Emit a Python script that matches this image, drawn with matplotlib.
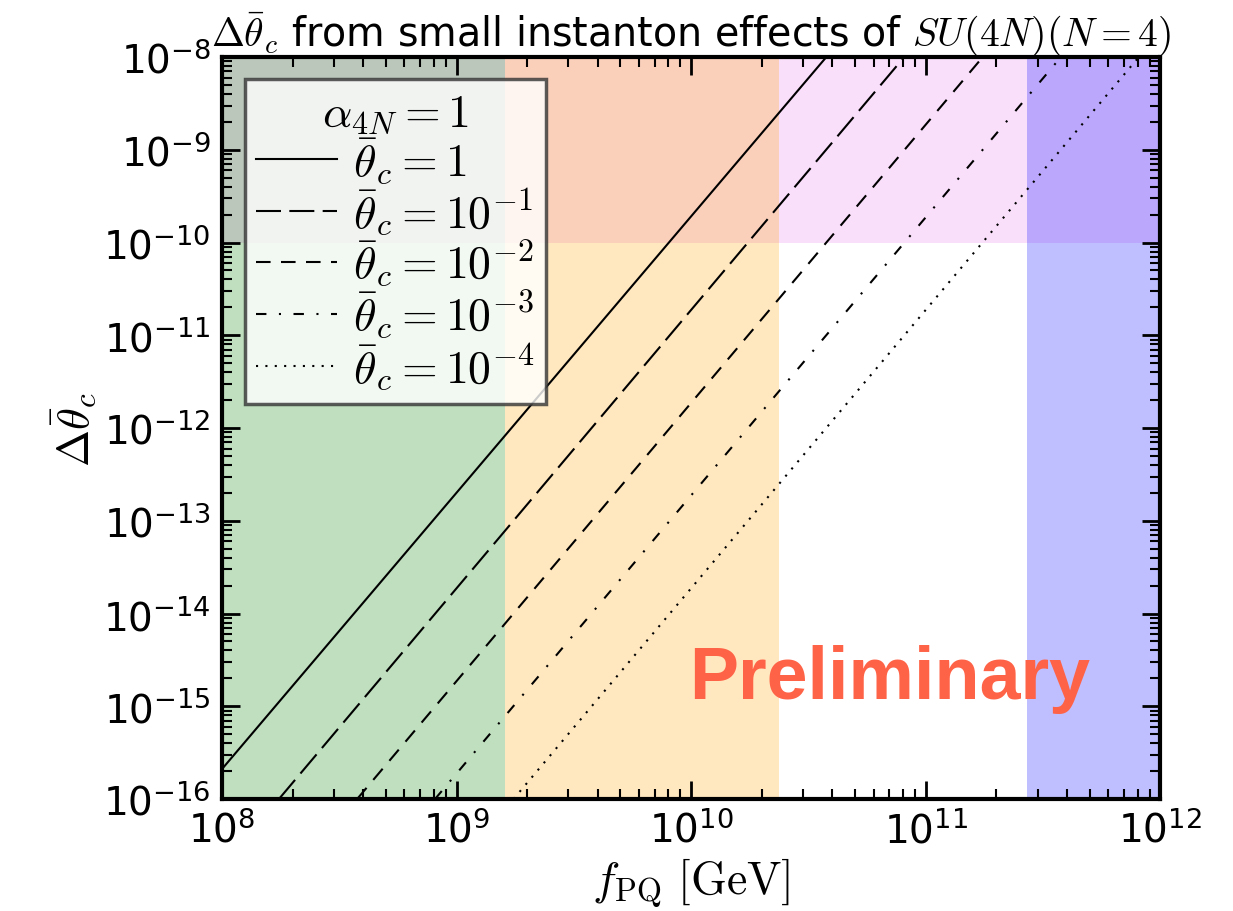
import numpy as np
import matplotlib
matplotlib.use('Agg')
import matplotlib.pyplot as plt
from matplotlib.ticker import LogLocator, NullFormatter

plt.rcParams['mathtext.fontset'] = 'cm'

# f_PQ [GeV] and Delta theta_c at the two visible ends of each line
line_labels = [r'$\bar{\theta}_c=1$', r'$\bar{\theta}_c=10^{-1}$', r'$\bar{\theta}_c=10^{-2}$',
               r'$\bar{\theta}_c=10^{-3}$', r'$\bar{\theta}_c=10^{-4}$']
line_f = [[1.0e8, 3.77e10], [1.75e8, 8.1e10], [3.77e8, 1.75e11], [8.1e8, 3.77e11], [1.75e9, 8.1e11]]
line_dtheta = [[2.1e-16, 1e-8], [1e-16, 1e-8], [1e-16, 1e-8], [1e-16, 1e-8], [1e-16, 1e-8]]
line_styles = ['-', (0, (12, 4)), (0, (7, 5)), (0, (5, 6, 1, 6)), (0, (1, 3.5))]

# shaded regions
band_y = [1e-10, 1e-8]
band_green = [1e8, 1.61e9]
band_orange = [1.61e9, 2.37e10]
band_blue = [2.71e11, 1e12]

fig = plt.figure(figsize=(12.33, 9.12), dpi=100)
ax = fig.add_axes([0.180, 0.1228, 0.761, 0.8135])

ax.axhspan(band_y[0], band_y[1], color='violet', alpha=0.25, lw=0)
ax.axvspan(band_green[0], band_green[1], color='green', alpha=0.25, lw=0)
ax.axvspan(band_orange[0], band_orange[1], color='orange', alpha=0.25, lw=0)
ax.axvspan(band_blue[0], band_blue[1], color='blue', alpha=0.25, lw=0)

for f, d, ls, lab in zip(line_f, line_dtheta, line_styles, line_labels):
    ax.plot(f, d, color='black', lw=1.5, linestyle=ls, label=lab)

ax.set_xscale('log')
ax.set_yscale('log')
ax.set_xlim(1e8, 1e12)
ax.set_ylim(1e-16, 1e-8)

ax.xaxis.set_major_locator(LogLocator(base=10, numticks=10))
ax.yaxis.set_major_locator(LogLocator(base=10, numticks=12))
ax.xaxis.set_minor_locator(LogLocator(base=10, subs=np.arange(2, 10), numticks=20))
ax.yaxis.set_minor_locator(LogLocator(base=10, subs=np.arange(2, 10), numticks=20))
ax.xaxis.set_minor_formatter(NullFormatter())
ax.yaxis.set_minor_formatter(NullFormatter())

ax.tick_params(which='both', direction='in', top=True, right=True, labelsize=28)
ax.tick_params(which='major', length=13, width=2, pad=8)
ax.tick_params(which='minor', length=7, width=1.5)
for sp in ax.spines.values():
    sp.set_linewidth(3)

ax.set_xlabel(r'$f_{\rm PQ}\ [{\rm GeV}]$', fontsize=33)
ax.set_ylabel(r'$\Delta\bar{\theta}_c$', fontsize=32)
ax.set_title(r'$\Delta\bar{\theta}_c$ from small instanton effects of $SU(4N) (N=4)$',
             fontsize=28.5, pad=1)

leg = ax.legend(loc='upper left', bbox_to_anchor=(0.0245, 0.970), borderaxespad=0,
                fontsize=33, title=r'$\alpha_{4N}=1$', title_fontsize=33,
                fancybox=False, framealpha=0.8, edgecolor='#333333',
                handlelength=1.75, handletextpad=0.35, labelspacing=0.0, borderpad=0.25)
leg.get_frame().set_linewidth(2.5)

ax.text(0.712, 0.162, 'Preliminary', transform=ax.transAxes, ha='center', va='center',
        fontsize=53, fontweight='bold', color='tomato', family='Liberation Sans')

fig.savefig('out.png', dpi=100)
